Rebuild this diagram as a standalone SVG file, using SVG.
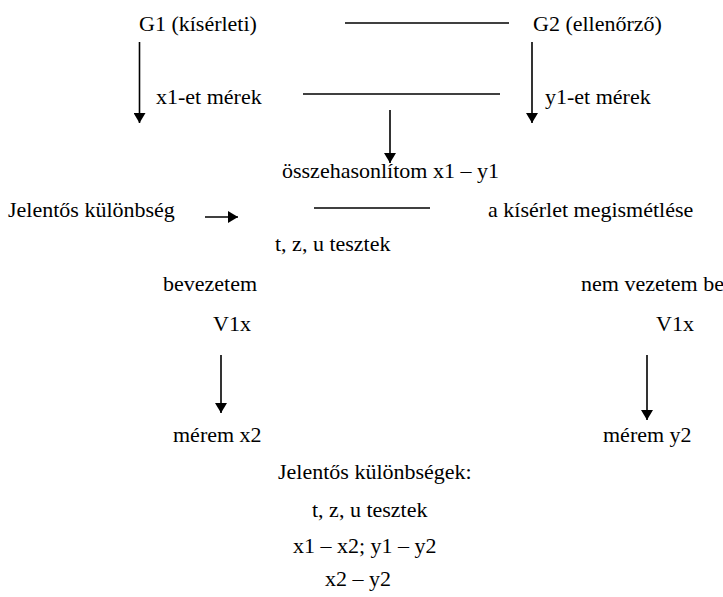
<svg xmlns="http://www.w3.org/2000/svg" width="723" height="597" viewBox="0 0 723 597">
  <style>
    text { font-family: "Liberation Serif", "Times New Roman", "DejaVu Serif", serif; font-size: 22px; fill: #000; }
    .ln { stroke: #000; stroke-width: 1.6; fill: none; }
  </style>
  <defs>
    <marker id="ah" viewBox="0 0 10 12" refX="10" refY="6" markerWidth="10" markerHeight="12" markerUnits="userSpaceOnUse" orient="auto">
      <path d="M0,0 L10,6 L0,12 Z" fill="#000"/>
    </marker>
  </defs>
  <rect width="723" height="597" fill="#fff"/>

  <g id="connectors">
    <line class="ln" x1="345" y1="23" x2="509" y2="23"/>
    <line class="ln" x1="139.5" y1="42" x2="139.5" y2="123" marker-end="url(#ah)"/>
    <line class="ln" x1="532" y1="42" x2="532" y2="123" marker-end="url(#ah)"/>
    <line class="ln" x1="303" y1="94" x2="500" y2="94"/>
    <line class="ln" x1="390" y1="110" x2="390" y2="163" marker-end="url(#ah)"/>
    <line class="ln" x1="205" y1="217" x2="238" y2="217" marker-end="url(#ah)"/>
    <line class="ln" x1="314" y1="208" x2="430" y2="208"/>
    <line class="ln" x1="221" y1="355" x2="221" y2="413" marker-end="url(#ah)"/>
    <line class="ln" x1="647" y1="355" x2="647" y2="420" marker-end="url(#ah)"/>
  </g>

  <g font-family="'Liberation Serif', 'Times New Roman', serif">
    <g id="g1"><text x="139" y="31">G1 (kísérleti)</text></g>
    <g id="g2"><text x="533" y="31">G2 (ellenőrző)</text></g>
    <g id="x1"><text x="156" y="104">x1-et mérek</text></g>
    <g id="y1"><text x="545" y="104">y1-et mérek</text></g>
    <g id="compare"><text x="282" y="178">összehasonlítom x1 – y1</text></g>
    <g id="significant"><text x="8" y="217">Jelentős különbség</text></g>
    <g id="repeat"><text x="488" y="217">a kísérlet megismétlése</text></g>
    <g id="tests1"><text x="275" y="251">t, z, u tesztek</text></g>
    <g id="introduce"><text x="163" y="291">bevezetem</text></g>
    <g id="not-introduce"><text x="581" y="291">nem vezetem be</text></g>
    <g id="v1x-left"><text x="213" y="331">V1x</text></g>
    <g id="v1x-right"><text x="656" y="331">V1x</text></g>
    <g id="measure-x2"><text x="173" y="442">mérem x2</text></g>
    <g id="measure-y2"><text x="603" y="442">mérem y2</text></g>
    <g id="results">
      <text x="278" y="479">Jelentős különbségek:</text>
      <text x="312" y="517">t, z, u tesztek</text>
      <text x="293" y="553">x1 – x2; y1 – y2</text>
      <text x="325" y="586">x2 – y2</text>
    </g>
  </g>
</svg>
